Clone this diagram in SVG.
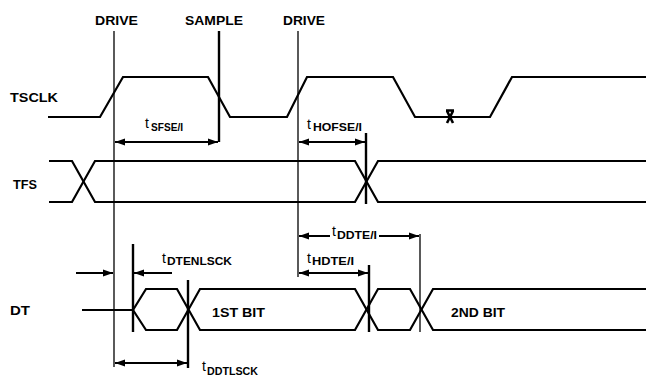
<svg xmlns="http://www.w3.org/2000/svg" width="646" height="376" viewBox="0 0 646 376">
<style>
.w{fill:none;stroke:#000;stroke-width:2.2;stroke-linejoin:miter}
.v1{stroke:#000;stroke-width:1.3}
.v2{stroke:#000;stroke-width:2.4}
.ar{stroke:#000;stroke-width:2;fill:none}
.lbl{font-family:"Liberation Sans",Arial,sans-serif;font-size:13px;font-weight:bold;fill:#000}
.t{font-family:"Liberation Sans",Arial,sans-serif;font-size:14px;fill:#000}
.s{font-family:"Liberation Sans",Arial,sans-serif;font-size:10px;font-weight:bold;fill:#000}
</style>
<defs>
<marker id="ah" markerUnits="userSpaceOnUse" markerWidth="11" markerHeight="8" refX="10" refY="4" orient="auto-start-reverse">
<path d="M0,0.5 L10,4 L0,7.5 z" fill="#000"/>
</marker>
</defs>
<rect width="646" height="376" fill="#fff"/>

<g id="labels">
<text class="lbl" x="95" y="25" textLength="43" lengthAdjust="spacingAndGlyphs">DRIVE</text>
<text class="lbl" x="185" y="25" textLength="58" lengthAdjust="spacingAndGlyphs">SAMPLE</text>
<text class="lbl" x="283" y="25" textLength="42" lengthAdjust="spacingAndGlyphs">DRIVE</text>
</g>

<g id="ref-lines">
<line class="v1" x1="114" y1="31" x2="114" y2="367"/>
<line class="v2" x1="219" y1="31" x2="219" y2="142"/>
<line class="v1" x1="298" y1="31" x2="298" y2="277"/>
<line class="v2" x1="366" y1="133" x2="366" y2="204"/>
<line class="v2" x1="133" y1="244" x2="133" y2="332"/>
<line class="v2" x1="188" y1="280" x2="188" y2="368"/>
<line class="v2" x1="369" y1="265" x2="369" y2="332"/>
<line class="v1" x1="420" y1="234" x2="420" y2="332"/>
</g>

<g id="TSCLK">
<text class="lbl" x="10" y="102" textLength="48" lengthAdjust="spacingAndGlyphs">TSCLK</text>
<polyline class="w" points="48,117 100,117 123,77 208,77 230,117 287,117 307,77 393,77 415,117 490,117 512,77 646,77"/>
<path d="M447,111 L453,123 M453,111 L447,123 M446,110.5 L454,110.5" stroke="#000" stroke-width="2.6" fill="none"/>
</g>

<g id="TFS">
<text class="lbl" x="13" y="189" textLength="24" lengthAdjust="spacingAndGlyphs">TFS</text>
<polyline class="w" points="49,161 72,161 95,202 355,202 378,161 646,161"/>
<polyline class="w" points="49,202 72,202 95,161 355,161 378,202 646,202"/>
</g>

<g id="DT">
<text class="lbl" x="10" y="315" textLength="20" lengthAdjust="spacingAndGlyphs">DT</text>
<line class="w" x1="82" y1="310" x2="133" y2="310"/>
<polyline class="w" points="133,310 146,289 177,289 200,330 355,330 378,289 410,289 433,330 646,330"/>
<polyline class="w" points="133,310 146,330 177,330 200,289 355,289 378,330 410,330 433,289 646,289"/>
<text class="lbl" x="212" y="317" textLength="53" lengthAdjust="spacingAndGlyphs">1ST BIT</text>
<text class="lbl" x="451" y="317" textLength="54" lengthAdjust="spacingAndGlyphs">2ND BIT</text>
</g>

<g id="connectors">
<line class="ar" x1="115" y1="142" x2="218" y2="142" marker-start="url(#ah)" marker-end="url(#ah)"/>
<line class="ar" x1="299" y1="142" x2="365" y2="142" marker-start="url(#ah)" marker-end="url(#ah)"/>
<line class="ar" x1="299" y1="236" x2="330" y2="236" marker-start="url(#ah)"/>
<line class="ar" x1="379" y1="236" x2="419" y2="236" marker-end="url(#ah)"/>
<line class="ar" x1="299" y1="273" x2="368" y2="273" marker-start="url(#ah)" marker-end="url(#ah)"/>
<line class="ar" x1="76" y1="273" x2="113" y2="273" marker-end="url(#ah)"/>
<line class="ar" x1="172" y1="273" x2="134" y2="273" marker-end="url(#ah)"/>
<line class="ar" x1="115" y1="363" x2="187" y2="363" marker-start="url(#ah)" marker-end="url(#ah)"/>
</g>

<g id="timing-labels">
<text class="t" x="145" y="128">t</text><text class="s" x="151" y="131" textLength="32" lengthAdjust="spacingAndGlyphs">SFSE/I</text>
<text class="t" x="307" y="129">t</text><text class="s" x="313" y="131" textLength="49" lengthAdjust="spacingAndGlyphs">HOFSE/I</text>
<text class="t" x="332" y="236">t</text><text class="s" x="337" y="239" textLength="40" lengthAdjust="spacingAndGlyphs">DDTE/I</text>
<text class="t" x="307" y="263">t</text><text class="s" x="312" y="265" textLength="42" lengthAdjust="spacingAndGlyphs">HDTE/I</text>
<text class="t" x="162" y="263">t</text><text class="s" x="167" y="265" textLength="65" lengthAdjust="spacingAndGlyphs">DTENLSCK</text>
<text class="t" x="202" y="371">t</text><text class="s" x="207" y="375" textLength="51" lengthAdjust="spacingAndGlyphs">DDTLSCK</text>
</g>
</svg>
